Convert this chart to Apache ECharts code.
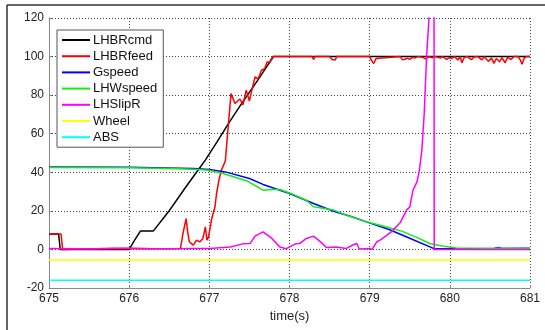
<!DOCTYPE html>
<html>
<head>
<meta charset="utf-8">
<script src="https://cdn.jsdelivr.net/npm/echarts@6/dist/echarts.min.js"></script>
<style>
html,body{margin:0;padding:0;background:#fff;}
#c{width:545px;height:330px;}
</style>
</head>
<body>
<div id="c"></div>
<script>
// ---- data ----
const seriesNames = ['LHBRcmd','LHBRfeed','Gspeed','LHWspeed','LHSlipR','Wheel','ABS'];
const xTicks = [675,676,677,678,679,680,681];
const yTicks = [-20,0,20,40,60,80,100,120];

const cmdT = [675,675.12,675.14,676.0,676.07,676.14,676.3,676.49,676.7,676.84,676.95,677.1,677.24,677.4,677.6,677.8,681];
const cmdV = [8,8,0,0,5,9.5,9.5,19.5,32,40,46.3,56,65.4,75.5,87.5,100,100];

const feedT = [675,675.15,675.17,675.5,676.0,676.3,676.64,676.67,676.71,676.73,676.75,676.8,676.84,676.88,676.92,676.95,676.97,676.99,677.03,677.07,677.09,677.12,677.15,677.2,677.24,677.27,677.32,677.38,677.42,677.46,677.5,677.53,677.57,677.61,677.65,677.69,677.72,677.75,677.79,
  678.28,678.3,678.32,678.5,678.53,678.55,678.57,678.59,679.0,679.03,679.05,679.08,679.1,679.38,679.41,679.44,679.47,679.5,679.53,679.56,679.6,679.66,679.7,679.74,679.78,679.82,679.88,679.91,679.96,679.99,680.02,680.06,680.1,680.13,680.15,680.18,680.22,680.27,680.3,680.35,680.4,680.43,680.48,680.52,680.55,680.58,680.62,680.65,680.69,680.72,680.76,680.8,680.85,680.88,680.9,680.93,680.96,681];
const feedV = [8,8,0,0.3,0.5,0.3,0.5,8,16,9,4,2.2,4.8,3.9,5.7,11.7,4.8,6.5,16,22,29,36,41,46,66,80.8,75.7,78,75,82.6,77,82.6,89.4,88.5,92.9,93.7,97.2,97,100,
  100,98.6,100,100,98.5,99.5,98.2,100,100,97.5,96.4,99,100,100,98.3,98.6,99.2,98.5,99.6,99.2,100,99.6,98.8,100,99.3,100,99.2,100,98.6,99.5,99,100,98.2,100,96.8,99.5,100,98.4,99.8,100,98.3,100,97.5,99.2,96.5,99,97.3,99.4,96.8,99.6,98.5,100,100,98.2,96,99.5,100,100];

const gT = [675,676,676.8,677.0,677.2,677.5,677.67,678.0,678.3,678.55,678.75,678.96,679.25,679.5,679.81,680.2,680.55,680.6,680.66,681];
const gV = [42.8,42.6,42,41.4,40.2,36.8,33.7,29,23.8,19.8,17.3,14.3,10.2,5.8,0.3,0.4,0.5,1.0,0.5,0.6];

const wT = [675,676,676.5,676.8,677.0,677.17,677.47,677.67,677.78,677.88,678.0,678.21,678.3,678.55,678.71,678.96,679.2,679.4,679.6,679.75,679.9,680.08,680.5,681];
const wV = [42.5,42.4,42,41.6,41,39.4,35.5,30.7,31.1,31.1,29.3,25.5,22.1,20.4,17.8,14.3,11.8,9.5,6,3.1,1.8,0.8,0.6,0.6];

const slipT = [675,675.3,675.5,675.8,676,676.3,676.5,676.8,677.0,677.26,677.43,677.51,677.57,677.67,677.78,677.88,677.96,678.08,678.13,678.21,678.3,678.38,678.46,678.58,678.71,678.79,678.84,678.87,679.0,679.03,679.09,679.13,679.27,679.38,679.46,679.5,679.54,679.59,679.62,679.65,679.68,679.71,679.74,679.77,679.8,679.805,681];
const slipV = [0.5,0.3,0.2,0.6,0.6,0.4,0.3,0.5,0.5,1.3,3,3.1,6.9,9.1,5.7,1.3,0.4,3,3.1,5.7,6.9,4.2,1,1.3,0.5,2.3,3.1,0.2,0.5,0,4,4.8,9.1,13.8,20.4,22,30.7,35,41,51,70,100,120,200,300,0,0];

const wheelT = [675,681];
const wheelV = [-5.5,-5.5];
const absT = [675,681];
const absV = [-16,-16];

// ---- chart ----
const colors = ['#000000','#ff0000','#0000ff','#11ee11','#ff00ff','#ffff00','#00ffff'];
const zip = (t,v) => t.map((x,i)=>[x,v[i]]);
const dataSets = [zip(cmdT,cmdV),zip(feedT,feedV),zip(gT,gV),zip(wT,wV),zip(slipT,slipV),zip(wheelT,wheelV),zip(absT,absV)];
const FONT = '"Liberation Sans", Arial, sans-serif';

const chart = echarts.init(document.getElementById('c'), null, {renderer:'canvas'});
chart.setOption({
  animation:false,
  backgroundColor:'#ffffff',
  color:colors,
  grid:{left:49, top:18, right:15, bottom:42, containLabel:false},
  xAxis:{
    type:'value', min:xTicks[0], max:xTicks[xTicks.length-1], interval:1,
    name:'time(s)', nameLocation:'middle', nameGap:18,
    nameTextStyle:{fontFamily:FONT, fontSize:13, color:'#222'},
    axisLine:{show:true, onZero:false, lineStyle:{color:'#888', width:1}},
    axisTick:{show:true, inside:true, length:3, lineStyle:{color:'#888'}},
    axisLabel:{fontFamily:FONT, fontSize:12, color:'#222', margin:5},
    splitLine:{show:true, lineStyle:{color:'#444', type:[1,2], width:1}}
  },
  yAxis:{
    type:'value', min:yTicks[0], max:yTicks[yTicks.length-1], interval:20,
    axisLine:{show:true, lineStyle:{color:'#888', width:1}},
    axisTick:{show:true, inside:true, length:3, lineStyle:{color:'#888'}},
    axisLabel:{fontFamily:FONT, fontSize:12, color:'#222', margin:5},
    splitLine:{show:true, lineStyle:{color:'#444', type:[1,2], width:1}}
  },
  legend:{
    orient:'vertical', left:57, top:30,
    padding:[3,6,3,5],
    backgroundColor:'#fff', borderColor:'#555', borderWidth:1,
    icon:'rect', itemWidth:28, itemHeight:2, itemGap:2.2,
    textStyle:{fontFamily:FONT, fontSize:13, color:'#111', lineHeight:14, padding:[0,0,0,-2]},
    data:seriesNames
  },
  series:seriesNames.map((n,i)=>({
    name:n, type:'line', data:dataSets[i], symbol:'none', clip:true,
    lineStyle:{width:1.5, color:colors[i]}, itemStyle:{color:colors[i]}
  })),
  graphic:[
    {type:'line', shape:{x1:7,y1:5,x2:545,y2:5}, style:{stroke:'#333', lineWidth:1.5}, z:100},
    {type:'line', shape:{x1:7,y1:5,x2:7,y2:330}, style:{stroke:'#333', lineWidth:1.5}, z:100}
  ]
});
</script>
</body>
</html>
